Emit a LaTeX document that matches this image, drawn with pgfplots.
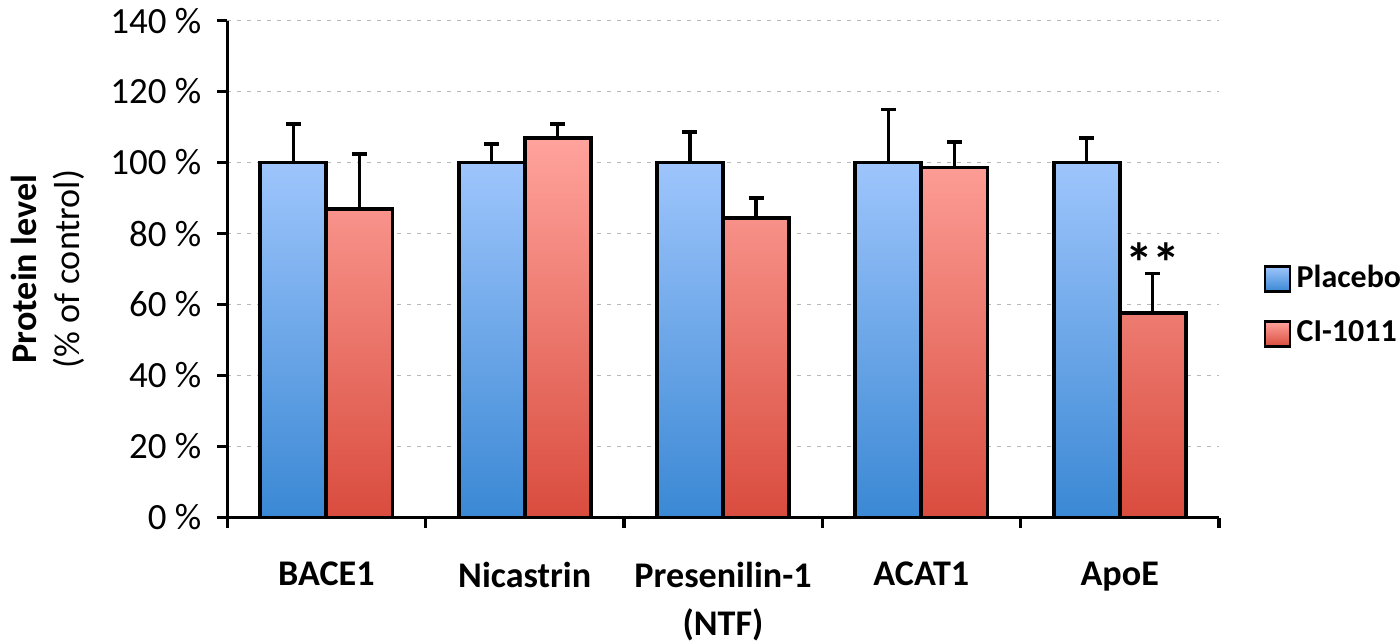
\documentclass[border=0pt]{standalone}
\usepackage{fontspec}
\setmainfont{Carlito}
\usepackage{pgfplots}
\pgfplotsset{compat=1.18}

\definecolor{plTop}{HTML}{9EC5FC}
\definecolor{plMid}{HTML}{7FAEEB}
\definecolor{plBot}{HTML}{3A88D4}
\definecolor{ciTop}{HTML}{FFA39C}
\definecolor{ciMid}{HTML}{EE857C}
\definecolor{ciBot}{HTML}{D94C3E}

\pgfplotsset{
    legbox/.style={legend image code/.code={%
        \draw[##1, line width=0.9pt] (0pt,-4.5pt) rectangle (9pt,4.5pt);}},
}

\begin{document}
\fontsize{13}{15.6}\selectfont
\begin{tikzpicture}
\begin{axis}[
    scale only axis,
    width=357pt, height=178.9pt,
    ybar=0pt,
    bar width=0.3333,
    xmin=-0.5, xmax=4.5,
    ymin=0, ymax=140,
    axis lines*=left,
    axis line style={line width=1.2pt},
    tick align=outside,
    xtick={0,1,2,3,4},
    xticklabels={BACE1,Nicastrin,{Presenilin-1\\[1.5pt](NTF)},ACAT1,ApoE},
    xticklabel style={font=\bfseries, align=center, yshift=-8pt},
    major x tick style={draw=none},
    minor xtick={-0.5,0.5,1.5,2.5,3.5,4.5},
    minor tick length=3.6pt,
    minor x tick style={line width=1.2pt, black},
    ytick={0,20,...,140},
    yticklabel={\pgfmathprintnumber{\tick} \%},
    yticklabel style={xshift=-1.2pt, font=\fontsize{13.3}{16}\selectfont},
    /pgf/number format/assume math mode=true,
    major tick length=3.6pt,
    major y tick style={line width=1.2pt, black},
    ymajorgrids,
    grid style={gray!55, dash pattern=on 1.2pt off 2.4pt, line width=0.5pt},
    ylabel={\textbf{Protein level}\\(\% of control)},
    ylabel style={align=center, at={(axis description cs:-0.1810,0.5)}, anchor=center},
    legend style={at={(rel axis cs:1.0446,0.4256)}, anchor=west, draw=none, fill=none,
        font=\bfseries\fontsize{11.5}{13.8}\selectfont, row sep=6pt, inner sep=0pt},
    legend cell align=left,
    error bars/y dir=plus,
    error bars/y explicit,
    error bars/error bar style={line width=1.2pt, black},
    error bars/error mark options={rotate=90, mark size=2.7pt, line width=1.2pt, black},
]
\addplot[draw=black, line width=1.4pt, top color=plTop, middle color=plMid, bottom color=plBot, legbox]
    coordinates {
    (0,100) +- (0,10.9)
    (1,100) +- (0,5.2)
    (2,100) +- (0,8.6)
    (3,100) +- (0,15.0)
    (4,100) +- (0,6.9)
};
\addplot[draw=black, line width=1.4pt, top color=ciTop, middle color=ciMid, bottom color=ciBot, legbox]
    coordinates {
    (0,86.9) +- (0,15.5)
    (1,106.8) +- (0,4.1)
    (2,84.4) +- (0,5.6)
    (3,98.6) +- (0,7.2)
    (4,57.5) +- (0,11.2)
};
\legend{Placebo,CI-1011}
\node[font=\bfseries\fontsize{20}{20}\selectfont, yshift=-3.6pt] at (axis cs:4.1667,74.5) {**};
\end{axis}
\pgfresetboundingbox
\path (-81.8pt,-44.5pt) rectangle (422.2pt,186.3pt);
\end{tikzpicture}
\end{document}
